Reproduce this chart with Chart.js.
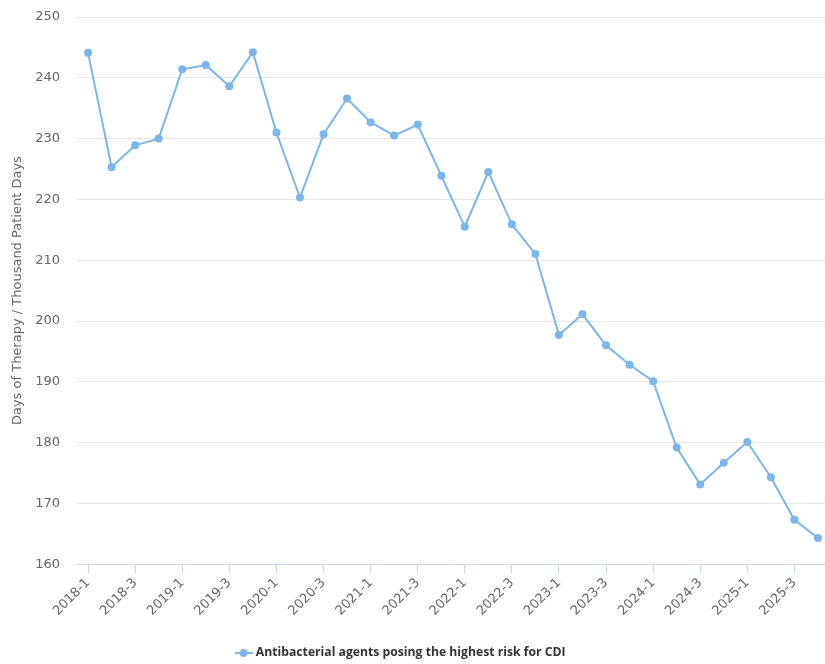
<!DOCTYPE html>
<html>
<head>
<meta charset="utf-8">
<script src="https://cdn.jsdelivr.net/npm/chart.js@4/dist/chart.umd.min.js"></script>
<style>
  body { margin: 0; background: #fff; }
  #wrap { width: 825px; height: 664px; position: relative; }
</style>
</head>
<body>
<div id="wrap"><canvas id="cdiChart"></canvas></div>
<script>
// Quarter categories
const quarters = [
    '2018-1', '2018-2', '2018-3', '2018-4',
    '2019-1', '2019-2', '2019-3', '2019-4',
    '2020-1', '2020-2', '2020-3', '2020-4',
    '2021-1', '2021-2', '2021-3', '2021-4',
    '2022-1', '2022-2', '2022-3', '2022-4',
    '2023-1', '2023-2', '2023-3', '2023-4',
    '2024-1', '2024-2', '2024-3', '2024-4',
    '2025-1', '2025-2', '2025-3', '2025-4'
];

// Days of therapy per thousand patient days
const dotValues = [
    244.1, 225.3, 228.9, 230.0,
    241.4, 242.1, 238.6, 244.2,
    231.0, 220.3, 230.7, 236.6,
    232.7, 230.5, 232.3, 223.9,
    215.5, 224.5, 215.9, 211.0,
    197.7, 201.1, 196.0, 192.8,
    190.1, 179.2, 173.1, 176.7,
    180.1, 174.3, 167.3, 164.3
];

const seriesName = 'Antibacterial agents posing the highest risk for CDI';
const yAxisTitle = 'Days of Therapy / Thousand Patient Days';
const yTicks = [160, 170, 180, 190, 200, 210, 220, 230, 240, 250];

const lineColor = '#7cb5ec';
const textColor = '#666666';

// Legend symbol: short line with a dot, like the original
function makeLegendSymbol() {
    const c = document.createElement('canvas');
    c.width = 18;
    c.height = 10;
    const g = c.getContext('2d');
    g.strokeStyle = lineColor;
    g.lineWidth = 2;
    g.beginPath();
    g.moveTo(0, 5);
    g.lineTo(18, 5);
    g.stroke();
    g.fillStyle = lineColor;
    g.beginPath();
    g.arc(9, 5, 4, 0, Math.PI * 2);
    g.fill();
    return c;
}

// Nudge the legend a little, the original sits left of centre and lower
const legendNudge = {
    id: 'legendNudge',
    afterLayout(chart) {
        const lg = chart.legend;
        if (!lg) return;
        lg.left -= 13;
        lg.right -= 13;
        lg.top += 5;
        lg.bottom += 5;
    }
};

const points = dotValues.map((v, i) => ({ x: i, y: v }));

new Chart(document.getElementById('cdiChart'), {
    type: 'line',
    data: {
        datasets: [{
            label: seriesName,
            data: points,
            borderColor: lineColor,
            backgroundColor: lineColor,
            borderWidth: 2,
            pointRadius: 4,
            pointHoverRadius: 4,
            pointBorderWidth: 0,
            pointStyle: 'circle',
            tension: 0
        }]
    },
    plugins: [legendNudge],
    options: {
        responsive: true,
        maintainAspectRatio: false,
        animation: false,
        layout: {
            autoPadding: false,
            padding: { top: 17, right: 0, left: 4, bottom: 0 }
        },
        scales: {
            x: {
                type: 'linear',
                min: -0.47,
                max: 31.3,
                afterBuildTicks: axis => {
                    axis.ticks = quarters
                        .map((q, i) => ({ value: i }))
                        .filter(t => t.value % 2 === 0);
                },
                afterFit: axis => {
                    // rotated labels may hang outside; keep plot edges fixed
                    axis.paddingLeft = 0;
                    axis.paddingRight = 0;
                    // leave room between the labels and the legend
                    axis.height += 19;
                },
                ticks: {
                    autoSkip: false,
                    minRotation: 45,
                    maxRotation: 45,
                    color: textColor,
                    font: { family: 'DejaVu Sans', size: 13 },
                    padding: 2,
                    callback: v => quarters[v]
                },
                grid: {
                    drawOnChartArea: false,
                    drawTicks: true,
                    tickLength: 9,
                    color: '#ccd6eb'
                },
                border: { color: '#ccd6eb', width: 1 }
            },
            y: {
                min: 160,
                max: 250,
                afterBuildTicks: axis => {
                    axis.ticks = yTicks.map(v => ({ value: v }));
                },
                afterFit: axis => {
                    axis.paddingTop = 0;
                    axis.paddingBottom = 0;
                    axis.width = 73;
                },
                ticks: {
                    color: textColor,
                    font: { family: 'DejaVu Sans', size: 13 },
                    padding: 17
                },
                grid: {
                    color: '#e6e6e6',
                    drawTicks: false
                },
                border: { display: false },
                title: {
                    display: true,
                    text: yAxisTitle,
                    color: textColor,
                    font: { family: 'DejaVu Sans', size: 13 },
                    padding: { top: 6, bottom: 10 }
                }
            }
        },
        plugins: {
            legend: {
                position: 'bottom',
                labels: {
                    usePointStyle: true,
                    pointStyle: makeLegendSymbol(),
                    color: '#333333',
                    font: { family: 'Open Sans', size: 12.2, weight: 'bold' },
                    padding: 2
                }
            },
            tooltip: { enabled: false }
        }
    }
});
</script>
</body>
</html>
